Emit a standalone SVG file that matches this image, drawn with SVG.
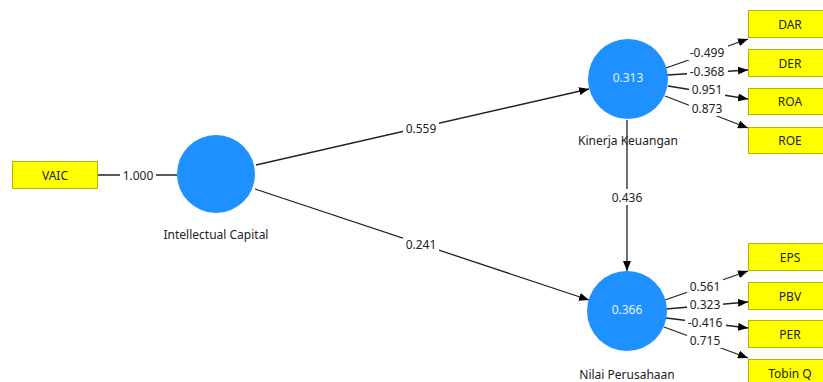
<svg xmlns="http://www.w3.org/2000/svg" width="823" height="382" viewBox="0 0 823 382">
<defs>
<marker id="ah" markerWidth="10" markerHeight="8" refX="10" refY="4" orient="auto" markerUnits="userSpaceOnUse">
<path d="M0,0 L10,4 L0,8 Z" fill="#000"/>
</marker>
<style>
.t{font-family:"Noto Sans","Open Sans",sans-serif;font-size:12px;fill:#222;text-anchor:middle;dominant-baseline:central}
.lv{fill:#1E90FF}
.in{font-family:"Noto Sans","Open Sans",sans-serif;font-size:12px;fill:#e8f2ff;text-anchor:middle;dominant-baseline:central}
.box{fill:#FFFF00;stroke:#b5b500;stroke-width:1}
.ln{stroke:#222;stroke-width:1.3;fill:none}
.arr{stroke:#222;stroke-width:1.3;fill:none;marker-end:url(#ah)}
.lb{fill:#fff}
</style>
</defs>
<rect width="823" height="382" fill="#fff"/>
<g id="connectors">
<line class="ln" x1="97" y1="175" x2="177" y2="175"/>
<line class="arr" x1="256" y1="165" x2="589" y2="89"/>
<line class="arr" x1="255" y1="189" x2="589" y2="300"/>
<line class="arr" x1="627" y1="120" x2="627" y2="271"/>
<line class="arr" x1="666" y1="68" x2="748" y2="39"/>
<line class="arr" x1="667" y1="75" x2="748" y2="70"/>
<line class="arr" x1="668" y1="86" x2="748" y2="99"/>
<line class="arr" x1="665" y1="96" x2="748" y2="128"/>
<line class="arr" x1="665" y1="300" x2="748" y2="271"/>
<line class="arr" x1="666" y1="309" x2="748" y2="302"/>
<line class="arr" x1="666" y1="318" x2="748" y2="328"/>
<line class="arr" x1="664" y1="327" x2="748" y2="358"/>
<rect class="lb" x="120" y="167" width="36" height="16"/>
<text class="t" x="138" y="175">1.000</text>
<rect class="lb" x="403" y="120" width="36" height="16"/>
<text class="t" x="421" y="128">0.559</text>
<rect class="lb" x="403" y="236" width="36" height="16"/>
<text class="t" x="421" y="244">0.241</text>
<rect class="lb" x="609" y="189" width="36" height="16"/>
<text class="t" x="627" y="197">0.436</text>
<rect class="lb" x="687" y="45" width="41" height="15"/>
<text class="t" x="707" y="52">-0.499</text>
<rect class="lb" x="687" y="64" width="41" height="15"/>
<text class="t" x="707" y="71">-0.368</text>
<rect class="lb" x="689" y="82" width="36" height="15"/>
<text class="t" x="707" y="89">0.951</text>
<rect class="lb" x="689" y="101" width="36" height="15"/>
<text class="t" x="707" y="108">0.873</text>
<rect class="lb" x="687" y="279" width="36" height="15"/>
<text class="t" x="705" y="286">0.561</text>
<rect class="lb" x="687" y="297" width="36" height="15"/>
<text class="t" x="705" y="304">0.323</text>
<rect class="lb" x="685" y="315" width="41" height="15"/>
<text class="t" x="705" y="322">-0.416</text>
<rect class="lb" x="687" y="333" width="36" height="15"/>
<text class="t" x="705" y="340">0.715</text>
</g>
<g id="VAIC"><rect class="box" x="12.5" y="161.5" width="85" height="27"/><text class="t" x="55" y="175">VAIC</text></g>
<g id="IntellectualCapital"><circle class="lv" cx="216" cy="174" r="39"/><text class="t" x="216" y="234">Intellectual Capital</text></g>
<g id="KinerjaKeuangan"><circle class="lv" cx="628" cy="79" r="40"/><text class="in" x="628" y="77">0.313</text><text class="t" x="628" y="140">Kinerja Keuangan</text></g>
<g id="NilaiPerusahaan"><circle class="lv" cx="627" cy="311" r="40"/><text class="in" x="627" y="309">0.366</text><text class="t" x="627" y="374">Nilai Perusahaan</text></g>
<g id="DAR"><rect class="box" x="748.5" y="10.5" width="85" height="27"/><text class="t" x="790" y="24">DAR</text></g>
<g id="DER"><rect class="box" x="748.5" y="49.5" width="85" height="27"/><text class="t" x="790" y="63">DER</text></g>
<g id="ROA"><rect class="box" x="748.5" y="88.5" width="85" height="26"/><text class="t" x="790" y="101">ROA</text></g>
<g id="ROE"><rect class="box" x="748.5" y="127.5" width="85" height="26"/><text class="t" x="790" y="140">ROE</text></g>
<g id="EPS"><rect class="box" x="748.5" y="243.5" width="85" height="27"/><text class="t" x="790" y="257">EPS</text></g>
<g id="PBV"><rect class="box" x="748.5" y="282.5" width="85" height="27"/><text class="t" x="790" y="296">PBV</text></g>
<g id="PER"><rect class="box" x="748.5" y="320.5" width="85" height="27"/><text class="t" x="790" y="334">PER</text></g>
<g id="TobinQ"><rect class="box" x="748.5" y="359.5" width="85" height="27"/><text class="t" x="790" y="373">Tobin Q</text></g>
</svg>
